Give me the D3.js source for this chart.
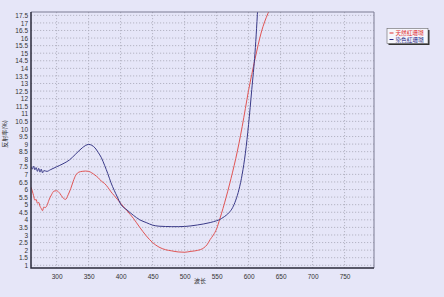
<!DOCTYPE html>
<html>
<head>
<meta charset="utf-8">
<script src="https://cdn.jsdelivr.net/npm/d3@7"></script>
<style>
  body { margin: 0; background: #e6e6f8; }
  svg { display: block; }
  text { font-family: "Liberation Sans", Arial, sans-serif; }
  .cjk { font-family: "Noto Sans CJK TC", "Noto Sans CJK SC", sans-serif; }
</style>
</head>
<body>
<div class="chart"></div>
<script>
// wavelength (nm) / reflectance (%) readings
var natWl = [260,262,264,266,268,270,272,274,276,278,280,282,285,288,292,296,300,305,310,314,318,322,326,330,335,340,345,350,355,360,365,370,375,380,385,390,395,400,405,410,420,430,440,450,460,470,480,490,500,510,520,530,535,540,545,550,555,560,565,570,575,580,585,590,595,600,605,610,620,630,640]
var natVal = [6.15,5.9,5.6,5.3,5.35,5.1,5.15,4.9,4.75,4.6,4.85,4.8,4.95,5.3,5.65,5.9,5.92,5.75,5.45,5.35,5.65,6.05,6.55,6.95,7.15,7.2,7.22,7.2,7.1,6.95,6.78,6.55,6.4,6.15,5.85,5.6,5.35,5.1,4.85,4.6,4.1,3.5,2.95,2.5,2.2,2.03,1.95,1.88,1.86,1.92,1.98,2.15,2.35,2.7,3.0,3.4,4.05,4.75,5.5,6.3,7.15,8.05,9.05,10.15,11.35,12.55,13.6,14.6,16.4,17.6,18.4]

var dyeWl = [260,262,264,266,268,270,272,274,276,278,280,285,290,300,310,320,330,340,345,350,355,360,365,370,375,380,385,390,395,400,410,420,430,440,450,460,470,480,490,500,510,520,530,540,550,555,560,565,570,575,580,585,590,595,600,605,610,615]
var dyeVal = [7.5,7.35,7.55,7.3,7.45,7.2,7.4,7.15,7.35,7.1,7.25,7.2,7.3,7.5,7.7,7.95,8.35,8.75,8.9,8.98,8.92,8.75,8.45,8.1,7.6,7.05,6.45,5.95,5.5,5.05,4.65,4.3,4.0,3.82,3.65,3.58,3.56,3.55,3.55,3.56,3.6,3.66,3.73,3.82,3.94,4.02,4.15,4.3,4.5,4.8,5.3,6.0,7.0,8.4,10.3,12.6,15.0,18.5]

var seriesNames = ['天然紅珊瑚', '染色紅珊瑚']
var xTicks = d3.range(300, 751, 50)
var yTicks = d3.range(1, 17.51, 0.5)

var W = 444, H = 297
var margin = { top: 12, right: 70, bottom: 29, left: 31 }
var width = W - margin.left - margin.right
var height = H - margin.top - margin.bottom

var svg = d3.select('div.chart').append('svg')
  .attr('width', W).attr('height', H)

var g = svg.append('g')
  .attr('transform', 'translate(' + margin.left + ',' + margin.top + ')')

var x = d3.scaleLinear().domain([260, 796]).range([0, width])
var y = d3.scaleLinear().domain([0.82, 17.72]).range([height, 0])

// GRID
g.append('g').selectAll('line').data(xTicks).enter().append('line')
  .attr('x1', d => x(d)).attr('x2', d => x(d))
  .attr('y1', 0).attr('y2', height)
  .attr('stroke', '#a8a8b8').attr('stroke-width', 0.8)
  .attr('stroke-dasharray', '1.2,1.8')
g.append('g').selectAll('line').data(yTicks).enter().append('line')
  .attr('x1', 0).attr('x2', width)
  .attr('y1', d => y(d)).attr('y2', d => y(d))
  .attr('stroke', '#a8a8b8').attr('stroke-width', 0.8)
  .attr('stroke-dasharray', '1.2,1.8')

// AXES
var xAxis = g.append('g')
  .attr('transform', 'translate(0,' + height + ')')
  .call(d3.axisBottom(x).tickValues(xTicks).tickSize(0).tickPadding(6))
xAxis.select('.domain').remove()
xAxis.selectAll('text').style('font-size', '6.5px').style('fill', '#333')

var yAxis = g.append('g')
  .call(d3.axisLeft(y).tickValues(yTicks).tickSize(0).tickPadding(3).tickFormat(d3.format('')))
yAxis.select('.domain').remove()
yAxis.selectAll('text').style('font-size', '6.5px').style('fill', '#333')

// CURVES
g.append('clipPath').attr('id', 'clip')
  .append('rect').attr('width', width).attr('height', height)

var line = d3.line()
  .x(d => x(d[0]))
  .y(d => y(d[1]))
  .curve(d3.curveMonotoneX)

g.append('path')
  .datum(d3.zip(natWl, natVal))
  .attr('clip-path', 'url(#clip)')
  .attr('fill', 'none').attr('stroke', '#e05555').attr('stroke-width', 1)
  .attr('d', line)

g.append('path')
  .datum(d3.zip(dyeWl, dyeVal))
  .attr('clip-path', 'url(#clip)')
  .attr('fill', 'none').attr('stroke', '#3a3a88').attr('stroke-width', 1)
  .attr('d', line)

// FRAME
g.append('path')
  .attr('d', 'M0,0H' + width + 'V' + height)
  .attr('fill', 'none').attr('stroke', '#7a7a92').attr('stroke-width', 1)
g.append('path')
  .attr('d', 'M0,0V' + height + 'H' + width)
  .attr('fill', 'none').attr('stroke', '#2a2a3a').attr('stroke-width', 1.5)

// AXIS LABELS
svg.append('text')
  .attr('class', 'cjk')
  .attr('transform', 'translate(7,134) rotate(-90)')
  .attr('text-anchor', 'middle')
  .style('font-size', '6px').style('fill', '#333')
  .text('反射率(%)')

svg.append('text')
  .attr('class', 'cjk')
  .attr('x', 200).attr('y', 283)
  .attr('text-anchor', 'middle')
  .style('font-size', '6px').style('fill', '#333')
  .text('波长')

// LEGEND
var legend = svg.append('g').attr('transform', 'translate(387,28.5)')
legend.append('rect')
  .attr('x', 1.5).attr('y', 1.5).attr('width', 41).attr('height', 15)
  .attr('fill', '#333')
legend.append('rect')
  .attr('width', 41).attr('height', 15)
  .attr('fill', '#f6f6fc').attr('stroke', '#666').attr('stroke-width', 0.6)
var colors = ['#e03030', '#2a2a88']
seriesNames.forEach(function(name, i) {
  var yy = 4.5 + i * 6.5
  legend.append('line')
    .attr('x1', 2.5).attr('x2', 6.5).attr('y1', yy).attr('y2', yy)
    .attr('stroke', colors[i]).attr('stroke-width', 1)
  legend.append('text')
    .attr('class', 'cjk')
    .attr('x', 8.5).attr('y', yy + 2)
    .style('font-size', '5.6px')
    .style('fill', colors[i])
    .text(name)
})
</script>
</body>
</html>
